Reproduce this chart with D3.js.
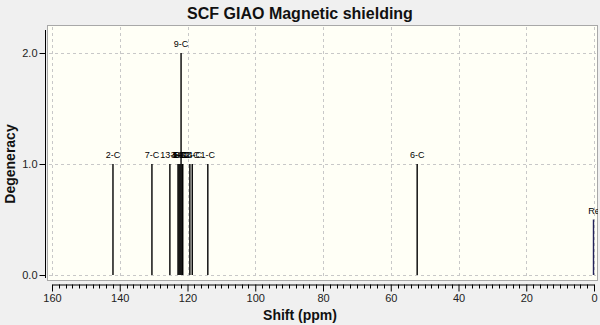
<!DOCTYPE html>
<html>
<head>
<meta charset="utf-8">
<script src="https://cdn.jsdelivr.net/npm/d3@7"></script>
<style>
  html, body { margin: 0; padding: 0; background: #f0f0f0; }
  svg { display: block; font-family: "Liberation Sans", Arial, sans-serif; }
</style>
</head>
<body>
<svg id="chart" width="600" height="325"></svg>
<script>
// NMR shielding peaks: label, shift (ppm), degeneracy
const peakLabels = ["2-C", "7-C", "13-C", "3-C", "4-C", "5-C", "9-C", "8-C", "10-C", "12-C", "14-C", "1-C", "6-C"];
const peakShifts = [142.0, 130.5, 125.2, 122.8, 122.5, 122.2, 121.9, 121.6, 121.4, 119.3, 118.6, 114.0, 52.2];
const peakDegeneracy = [1, 1, 1, 1, 1, 1, 2, 1, 1, 1, 1, 1, 1];

// Reference peak
const refLabel = "Re";
const refShift = 0.0;
const refHeight = 0.5;

const xTicks = [160, 140, 120, 100, 80, 60, 40, 20, 0];
const yTicks = [0.0, 1.0, 2.0];

const svg = d3.select("#chart");

const x = d3.scaleLinear().domain([160, 0]).range([52, 594]);
const y = d3.scaleLinear().domain([0, 2]).range([275, 53]);

// Plot area
svg.append("rect")
  .attr("x", 47.5).attr("y", 25.5)
  .attr("width", 550).attr("height", 255)
  .attr("fill", "#fffff6")
  .attr("stroke", "#a8a8a8");

// Grid
const grid = svg.append("g").attr("stroke", "#c8c8c8").attr("stroke-dasharray", "3,3");
grid.selectAll("line.v").data(xTicks).join("line")
  .attr("x1", d => Math.round(x(d)) + 0.5).attr("x2", d => Math.round(x(d)) + 0.5)
  .attr("y1", 27).attr("y2", 279);
grid.selectAll("line.h").data(yTicks).join("line")
  .attr("x1", 49).attr("x2", 596)
  .attr("y1", d => Math.round(y(d)) + 0.5).attr("y2", d => Math.round(y(d)) + 0.5);

// Peaks
const peaks = peakLabels.map((l, i) => ({ label: l, shift: peakShifts[i], deg: peakDegeneracy[i] }));

svg.append("g").selectAll("line").data(peaks).join("line")
  .attr("x1", d => x(d.shift)).attr("x2", d => x(d.shift))
  .attr("y1", y(0)).attr("y2", d => y(d.deg))
  .attr("stroke", "#000").attr("stroke-width", 1.4);

svg.append("g").selectAll("text").data(peaks).join("text")
  .attr("x", d => x(d.shift)).attr("y", d => y(d.deg) - 6)
  .attr("text-anchor", "middle")
  .attr("font-size", 9).attr("fill", "#000")
  .text(d => d.label);

// Reference peak
svg.append("line")
  .attr("x1", x(refShift) - 0.5).attr("x2", x(refShift) - 0.5)
  .attr("y1", y(0)).attr("y2", y(refHeight))
  .attr("stroke", "#22225a").attr("stroke-width", 1.4);
svg.append("text")
  .attr("x", x(refShift)).attr("y", y(refHeight) - 6)
  .attr("text-anchor", "middle")
  .attr("font-size", 9).attr("fill", "#000")
  .text(refLabel);

// Cover the right margin so the reference label is clipped at the frame
svg.append("rect").attr("x", 598).attr("y", 0).attr("width", 2).attr("height", 325).attr("fill", "#f0f0f0");

// Y axis
const yAxis = d3.axisLeft(y).tickValues(yTicks).tickFormat(d3.format(".1f")).tickSize(6).tickSizeOuter(0);
const gy = svg.append("g").attr("transform", "translate(45.5,0)").call(yAxis);
gy.select(".domain").remove();
gy.append("line").attr("x1", 0).attr("x2", 0).attr("y1", 30).attr("y2", 278).attr("stroke", "#000");
gy.selectAll(".tick text").attr("font-size", 11).attr("fill", "#222").attr("x", -8)
  .style("font-family", "'Liberation Sans', Arial, sans-serif");

// X axis with minor ticks every 2 ppm
const xAxis = d3.axisBottom(x).tickValues(xTicks).tickFormat(d3.format("d")).tickSize(7).tickSizeOuter(0).tickPadding(3);
const gx = svg.append("g").attr("transform", "translate(0,284.5)").call(xAxis);
gx.selectAll(".tick text").attr("font-size", 11).attr("fill", "#222")
  .style("font-family", "'Liberation Sans', Arial, sans-serif");
const minor = d3.range(0, 161, 2).filter(v => v % 20 !== 0);
gx.selectAll("line.minor").data(minor).join("line")
  .attr("class", "minor")
  .attr("x1", d => Math.round(x(d)) + 0.5).attr("x2", d => Math.round(x(d)) + 0.5)
  .attr("y1", 0).attr("y2", 4)
  .attr("stroke", "#000");

// Titles
svg.append("text").attr("x", 300).attr("y", 19).attr("text-anchor", "middle")
  .attr("font-size", 16).attr("font-weight", "bold").attr("fill", "#111")
  .text("SCF GIAO Magnetic shielding");
svg.append("text").attr("x", 300).attr("y", 320).attr("text-anchor", "middle")
  .attr("font-size", 14).attr("font-weight", "bold").attr("fill", "#111")
  .text("Shift (ppm)");
svg.append("text").attr("transform", "translate(15,164) rotate(-90)").attr("text-anchor", "middle")
  .attr("font-size", 14).attr("font-weight", "bold").attr("fill", "#111")
  .text("Degeneracy");
</script>
</body>
</html>
